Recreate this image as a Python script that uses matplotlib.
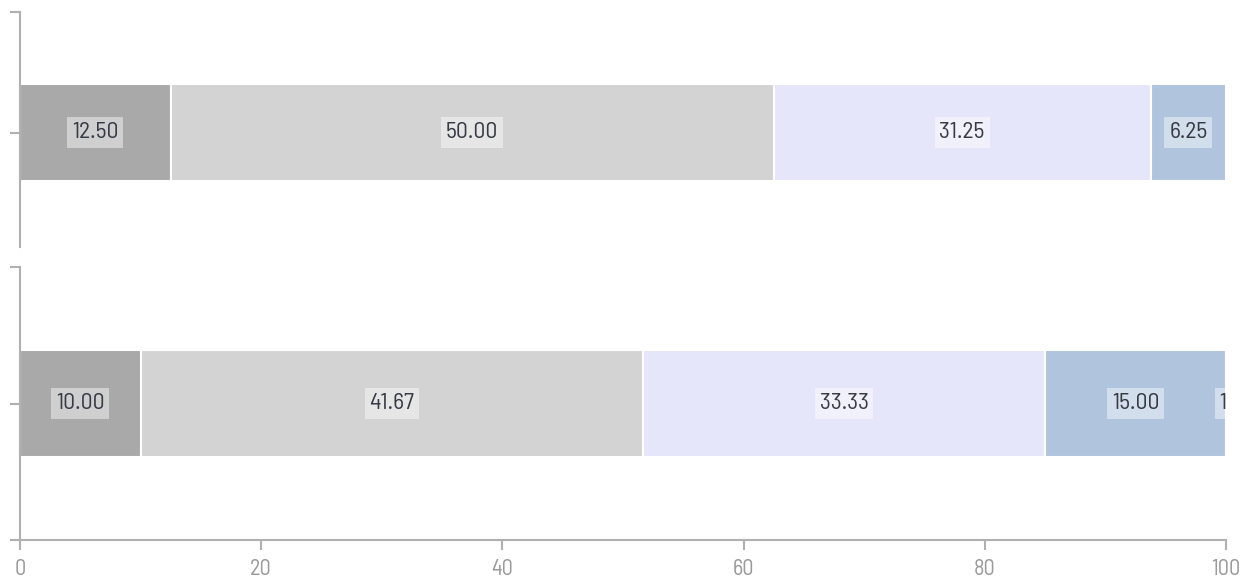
import matplotlib
matplotlib.use("Agg")
import matplotlib.pyplot as plt

plt.rcParams['font.family'] = ['Barlow Semi Condensed', 'DejaVu Sans']

# data
top_values = [12.50, 50.00, 31.25, 6.25]
bottom_values = [10.00, 41.67, 33.33, 15.00, 1.67]
colors = ['#A9A9A9', '#D3D3D3', '#E6E6FA', '#B0C4DE', '#778899']
x_ticks = [0, 20, 40, 60, 80, 100]

fig = plt.figure(figsize=(12.5, 5.88), dpi=100)
W, H = 1250, 588
ax_top = fig.add_axes([20 / W, 1 - 247 / H, (1226 - 20) / W, (247 - 12) / H])
ax_bot = fig.add_axes([20 / W, 1 - 540 / H, (1226 - 20) / W, (540 - 267) / H])

spine_col = '#b0b0b0'
label_col = '#363b45'


def draw(ax, values, height):
    left = 0
    for i, v in enumerate(values):
        ax.barh(0, v, left=left, height=height, color=colors[i],
                edgecolor='white', linewidth=1.5)
        ax.text(left + v / 2, 0, f"{v:.2f}", ha='center', va='center',
                fontsize=17, fontweight='normal', color=label_col, clip_on=True,
                bbox=dict(boxstyle='square,pad=0.2', facecolor='white',
                          edgecolor='none', alpha=0.45))
        left += v
    ax.set_xlim(0, 100)
    for s in ['top', 'right']:
        ax.spines[s].set_visible(False)
    ax.spines['left'].set_color(spine_col)
    ax.spines['left'].set_linewidth(1.5)
    ax.spines['bottom'].set_color(spine_col)
    ax.spines['bottom'].set_linewidth(1.5)
    ax.tick_params(axis='y', length=7, width=1.5, color=spine_col, labelleft=False)


draw(ax_top, top_values, 0.80)
ax_top.set_ylim(-0.95, 1.0)
ax_top.set_yticks([0, 1.0])
ax_top.spines['bottom'].set_visible(False)
ax_top.tick_params(axis='x', bottom=False, labelbottom=False)

draw(ax_bot, bottom_values, 0.78)
ax_bot.set_ylim(-1.0, 1.0)
ax_bot.set_yticks([-1.0, 0, 1.0])
ax_bot.set_xticks(x_ticks)
ax_bot.set_xticklabels([str(x) for x in x_ticks])
ax_bot.tick_params(axis='x', length=7, width=1.5, color=spine_col,
                   labelcolor='#9a9a9a', labelsize=16, pad=7)

fig.savefig('out.png', dpi=100)
